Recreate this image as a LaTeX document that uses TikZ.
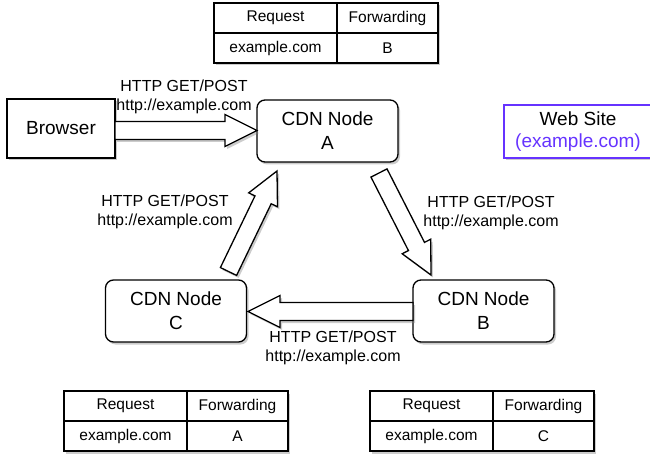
\documentclass[tikz,border=0pt]{standalone}
\usepackage{fontspec}
\setmainfont{Liberation Sans}
\usetikzlibrary{calc,shadows}
\definecolor{wsviolet}{RGB}{102,51,255}

\tikzset{
  shd/.style={drop shadow={shadow xshift=2pt,shadow yshift=-2.5pt,opacity=0.4}},
  cdn/.style={draw,line width=1.3pt,rounded corners=8pt,fill=white,minimum width=141pt,
    minimum height=62pt,align=center,font=\fontsize{19}{24}\selectfont,inner sep=0pt,shd},
  plainbox/.style={draw,line width=1.3pt,fill=white,align=center,
    font=\fontsize{19}{22}\selectfont,inner sep=0pt,shd},
  lbl/.style={align=center,font=\fontsize{16}{19}\selectfont,inner sep=0pt},
  tbl/.style={draw,line width=1.3pt,fill=white,minimum width=224pt,minimum height=60pt,
    inner sep=0pt,outer sep=0pt,shd},
  cellA/.style={draw,line width=1.1pt,minimum width=123pt,minimum height=30pt,
    inner sep=0pt,outer sep=0pt,font=\fontsize{15.5}{18}\selectfont},
  cellB/.style={cellA,minimum width=101pt},
  barrow/.style={draw,line width=1.3pt,fill=white,line join=miter,shd},
}

\newcommand\fwdtable[4]{%
  \node[tbl,anchor=north west] (#1) at (#2,#3) {};
  \node[cellA,anchor=north west] (#1-r) at (#1.north west) {Request};
  \node[cellB,anchor=north west] (#1-f) at (#1-r.north east) {Forwarding};
  \node[cellA,anchor=north west] (#1-e) at (#1-r.south west) {example.com};
  \node[cellB,anchor=north west] (#1-v) at (#1-e.north east) {#4};
}

\newcommand\blockarrow[2]{%
  \path[barrow] let \p1=(#1), \p2=(#2),
     \n1={atan2(\y2-\y1,\x2-\x1)}, \n2={veclen(\x2-\x1,\y2-\y1)} in
    ([shift={(\p1)},rotate=\n1]0pt,9pt)
    -- ([shift={(\p1)},rotate=\n1]{\n2-32pt},9pt)
    -- ([shift={(\p1)},rotate=\n1]{\n2-32pt},16pt)
    -- ([shift={(\p1)},rotate=\n1]{\n2*1pt},0pt)
    -- ([shift={(\p1)},rotate=\n1]{\n2-32pt},-16pt)
    -- ([shift={(\p1)},rotate=\n1]{\n2-32pt},-9pt)
    -- ([shift={(\p1)},rotate=\n1]0pt,-9pt) -- cycle;
}

\begin{document}
\begin{tikzpicture}[x=1pt,y=-1pt]
\useasboundingbox (0,0) rectangle (650,454);

% tables
\fwdtable{tb}{214}{3}{B}
\fwdtable{tc}{64}{391}{A}
\fwdtable{ta}{370}{391}{C}

% boxes
\node[plainbox,minimum width=108pt,minimum height=59pt] (browser) at (61,128.5) {Browser};
\node[cdn] (A) at (327.5,131) {CDN Node\\A};
\node[cdn] (B) at (483.5,311) {CDN Node\\B};
\node[cdn] (C) at (176,311) {CDN Node\\C};
\node[plainbox,draw=wsviolet,minimum width=148pt,minimum height=53pt] (web) at (578,131.5)
  {Web Site\\\textcolor{wsviolet}{(example.com)}};

% arrow end points
\coordinate (ba1) at (115,130.5);
\coordinate (ba2) at (257,130.5);
\coordinate (ca1) at (228.5,271.5);
\coordinate (ca2) at (277,171);
\coordinate (ab1) at (379,173);
\coordinate (ab2) at (431,275);
\coordinate (bc1) at (413,311.5);
\coordinate (bc2) at (248,311.5);

\blockarrow{ba1}{ba2}
\blockarrow{ca1}{ca2}
\blockarrow{ab1}{ab2}
\blockarrow{bc1}{bc2}

% labels
\node[lbl] (l1) at (184,96.5) {HTTP GET/POST\\http://example.com};
\node[lbl] (l2) at (165,212) {HTTP GET/POST\\http://example.com};
\node[lbl] (l3) at (491,212.5) {HTTP GET/POST\\http://example.com};
\node[lbl] (l4) at (333,347.5) {HTTP GET/POST\\http://example.com};
\end{tikzpicture}
\end{document}
